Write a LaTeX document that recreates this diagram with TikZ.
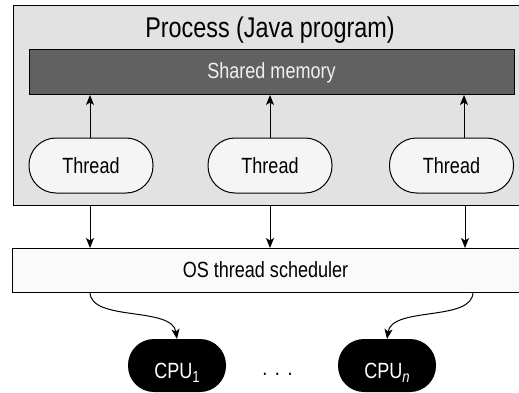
\documentclass[tikz,border=0pt]{standalone}
\usepackage{fontspec}
\setmainfont{Liberation Sans}[FakeStretch=0.82]
\usetikzlibrary{arrows.meta}
\definecolor{procbg}{HTML}{E2E2E2}
\definecolor{memfill}{HTML}{616161}
\definecolor{thrfill}{HTML}{F4F5F4}
\definecolor{schfill}{HTML}{FAFAFA}
\newcommand{\bodyfont}{\fontsize{22}{26}\selectfont}
\newcommand{\cpusub}[1]{\raisebox{-4.5pt}{\fontsize{16}{16}\selectfont #1}}
\begin{document}
\begin{tikzpicture}[x=1pt,y=-1pt,
  every node/.style={inner sep=0pt, outer sep=0pt},
  line/.style={line width=1pt},
  arr/.style={line width=1pt,-{Stealth[length=10pt,width=8pt,inset=2.5pt]}},
  thr/.style={draw, line width=1pt, fill=thrfill, rounded corners=27pt,
    minimum width=124pt, minimum height=55pt, font=\bodyfont},
  cpu/.style={fill=black, text=white, rounded corners=26pt,
    minimum width=98pt, minimum height=53pt, font=\bodyfont,
    text height=25pt, text depth=0pt},
]
\fill[white] (0,0) rectangle (519,393);
\useasboundingbox (0,0) rectangle (519,393);
% process box (right edge cut off)
\node[fill=procbg, minimum width=506pt, minimum height=199pt] (proc) at (266,105.5) {};
\draw[line] (proc.north east) -- (proc.north west) -- (proc.south west) -- (proc.south east);
\node[anchor=base, font=\fontsize{28.5}{32}\selectfont] (title) at (270,38) {Process (Java program)};
% shared memory
\node[draw, line, fill=memfill, text=white!94!black, minimum width=485pt, minimum height=45pt,
  font=\bodyfont] (mem) at (271.5,72.5) {Shared memory};
% threads
\node[thr] (t1) at (91,165.5) {Thread};
\node[thr] (t2) at (270,165.5) {Thread};
\node[thr] (t3) at (451.5,165.5) {Thread};
\draw[arr] ([xshift=-1pt]t1.north) -- ([xshift=-1pt]t1.north |- mem.south);
\draw[arr] (t2.north) -- (t2.north |- mem.south);
\draw[arr] ([xshift=12.5pt]t3.north) -- ([xshift=12.5pt]t3.north |- mem.south);
% scheduler (right edge cut off)
\node[fill=schfill, minimum width=507pt, minimum height=44pt, font=\bodyfont] (sch) at (265.5,270) {OS thread scheduler};
\draw[line] (sch.north east) -- (sch.north west) -- (sch.south west) -- (sch.south east);
\draw[arr] ([xshift=-1pt]t1.south |- proc.south) -- ([xshift=-1pt]t1.south |- sch.north);
\draw[arr] (t2.south |- proc.south) -- (t2.south |- sch.north);
\draw[arr] ([xshift=13.5pt]t3.south |- proc.south) -- ([xshift=13.5pt]t3.south |- sch.north);
% CPUs
\node[cpu] (c1) at (177,365.5) {CPU\cpusub{1}};
\node[cpu] (cn) at (387,365.5) {CPU\cpusub{\itshape n}};
\node[anchor=base, font=\bodyfont] (dots) at (277.5,375.5) {.\hspace{7.5pt}.\hspace{7.5pt}.};
\coordinate (s1) at ([xshift=-1pt]t1.south |- sch.south);
\coordinate (s2) at ([xshift=21.5pt]t3.south |- sch.south);
\draw[arr] (s1) .. controls +(0,30) and +(-5,-33) .. (c1.north);
\draw[arr] (s2) .. controls +(0,30) and +(5,-33) .. (cn.north);
\end{tikzpicture}
\end{document}
